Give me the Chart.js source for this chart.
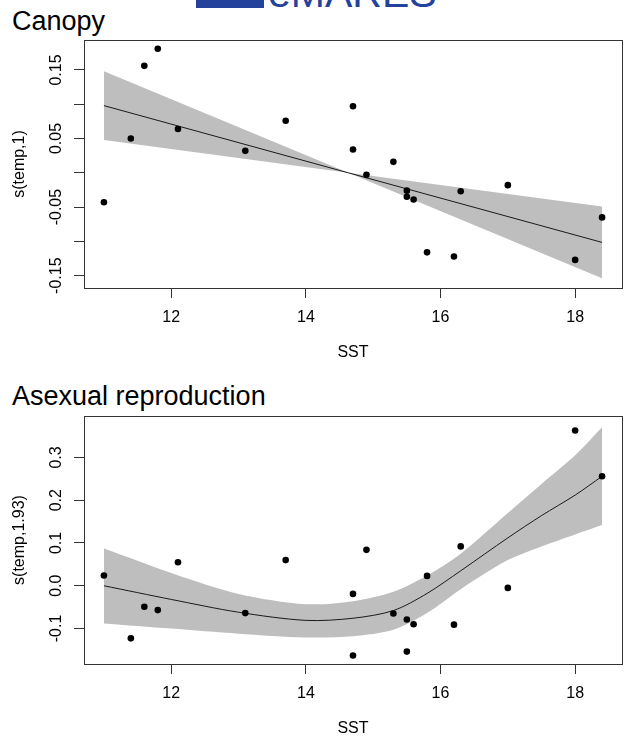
<!DOCTYPE html>
<html>
<head>
<meta charset="utf-8">
<script src="https://cdn.jsdelivr.net/npm/chart.js@4.4.1/dist/chart.umd.min.js"></script>
<style>
  body { margin: 0; background: #fff; width: 626px; height: 743px; position: relative; overflow: hidden;
         font-family: "Liberation Sans", Arial, sans-serif; }
  canvas { position: absolute; left: 0; }
  .title { position: absolute; left: 12px; font-size: 27px; line-height: 1; color: #000; white-space: nowrap; }
  #logo { position: absolute; left: 196px; top: 0; width: 250px; height: 8px; overflow: hidden; }
  #logo .mark { position: absolute; left: 0; top: 0; width: 68px; height: 8px; background: #24419b; }
  #logo .word { position: absolute; left: 72px; top: -27px; font-size: 41px; line-height: 1; color: #24419b; }
</style>
</head>
<body>
<div id="logo"><div class="mark"></div><div class="word">eMARES</div></div>
<div class="title" style="top:8px">Canopy</div>
<div class="title" style="top:383px">Asexual reproduction</div>
<canvas id="canopy" width="626" height="371" style="top:0"></canvas>
<canvas id="asexual" width="626" height="372" style="top:371px"></canvas>
<script>
// sea surface temperature of each site (shared by both panels)
const sst = [11.0, 11.4, 11.6, 11.8, 12.1, 13.1, 13.7, 14.7, 14.7, 14.9,
             15.3, 15.5, 15.5, 15.6, 15.8, 16.2, 16.3, 17.0, 18.0, 18.4];

// partial residuals
const canopyResid = [-0.043, 0.050, 0.156, 0.181, 0.064, 0.032, 0.076, 0.097, 0.034, -0.003,
                     0.016, -0.026, -0.035, -0.039, -0.116, -0.122, -0.027, -0.018, -0.127, -0.065];
const asexResid = [0.024, -0.123, -0.049, -0.057, 0.055, -0.064, 0.060, -0.019, -0.163, 0.084,
                   -0.065, -0.079, -0.154, -0.090, 0.023, -0.091, 0.092, -0.005, 0.363, 0.256];

// fitted smooths and confidence bands
const canopyFitX = [11.0, 14.63, 18.4];
const canopyFit = [0.098, 0.0, -0.1015];
const canopyUpper = [0.148, 0.0, -0.049];
const canopyLower = [0.048, 0.0, -0.154];

const asexFitX = [11.0, 12.0, 13.0, 14.0, 14.7, 15.3, 15.8, 16.3, 17.0, 17.5, 18.0, 18.4];
const asexFit = [0.000, -0.032, -0.062, -0.081, -0.076, -0.058, -0.018, 0.035, 0.112, 0.164, 0.212, 0.256];
const asexUpper = [0.087, 0.030, -0.019, -0.043, -0.036, -0.014, 0.024, 0.075, 0.170, 0.238, 0.305, 0.371];
const asexLower = [-0.088, -0.100, -0.112, -0.121, -0.118, -0.103, -0.064, -0.008, 0.060, 0.092, 0.120, 0.142];

// axes
const xTicks = [12, 14, 16, 18];
const canopyYTicks = [-0.15, -0.10, -0.05, 0, 0.05, 0.10, 0.15];
const canopyYLabelAt = [-0.15, -0.05, 0.05, 0.15];
const canopyYLabels = ['-0.15', '-0.05', '0.05', '0.15'];
const asexYTicks = [-0.1, 0, 0.1, 0.2, 0.3];
const asexYLabels = ['-0.1', '0.0', '0.1', '0.2', '0.3'];

const FONT = '"Liberation Sans", Arial, Helvetica, sans-serif';
Chart.defaults.font.family = FONT;
Chart.defaults.color = '#000';

const pts = (xs, ys) => xs.map((x, i) => ({x: x, y: ys[i]}));

// box around the plot and R-style rotated y labels
const rBox = {
  id: 'rbox',
  afterDraw(chart, args, opts) {
    const {ctx, chartArea: a} = chart;
    const y = chart.scales.y;
    ctx.save();
    ctx.strokeStyle = '#333';
    ctx.lineWidth = 1;
    ctx.strokeRect(Math.round(a.left) + 0.5, Math.round(a.top) + 0.5,
                   Math.round(a.right - a.left), Math.round(a.bottom - a.top));
    ctx.fillStyle = '#000';
    ctx.font = '16px ' + FONT;
    ctx.textAlign = 'center';
    ctx.textBaseline = 'middle';
    opts.at.forEach((v, i) => {
      ctx.save();
      ctx.translate(57, y.getPixelForValue(v));
      ctx.rotate(-Math.PI / 2);
      ctx.fillText(opts.labels[i], 0, 0);
      ctx.restore();
    });
    ctx.restore();
  }
};

function panel(id, p) {
  new Chart(document.getElementById(id), {
    type: 'scatter',
    data: {
      datasets: [
        {data: pts(sst, p.resid), pointRadius: 3.3, pointBackgroundColor: '#000', pointBorderWidth: 0, order: 0},
        {data: pts(p.fitX, p.fit), showLine: true, borderColor: '#1a1a1a', borderWidth: 1, pointRadius: 0,
         tension: p.tension, order: 1},
        {data: pts(p.fitX, p.upper), showLine: true, borderWidth: 0, pointRadius: 0, fill: '+1',
         backgroundColor: '#bebebe', tension: p.tension, order: 2},
        {data: pts(p.fitX, p.lower), showLine: true, borderWidth: 0, pointRadius: 0,
         tension: p.tension, order: 3}
      ]
    },
    options: {
      responsive: false,
      animation: false,
      events: [],
      layout: {padding: {top: p.top, right: 4, left: 0, bottom: 0}},
      plugins: {
        legend: {display: false},
        tooltip: {enabled: false},
        filler: {drawTime: 'beforeDatasetsDraw'},
        rbox: {at: p.yLabelAt, labels: p.yLabels}
      },
      scales: {
        x: {
          type: 'linear', min: 10.704, max: 18.696,
          afterBuildTicks: s => { s.ticks = xTicks.map(v => ({value: v})); },
          afterFit: s => { s.height = p.xh; },
          grid: {drawOnChartArea: false, tickLength: 10, tickColor: '#333', lineWidth: 1},
          border: {display: false},
          ticks: {font: {size: 16}, padding: 10, maxRotation: 0, callback: v => String(v)},
          title: {display: true, text: 'SST', font: {size: 16}, padding: {top: 0, bottom: p.titlePad}}
        },
        y: {
          min: p.ymin, max: p.ymax,
          afterBuildTicks: s => { s.ticks = p.yTicks.map(v => ({value: v})); },
          afterFit: s => { s.width = 84; },
          grid: {drawOnChartArea: false, tickLength: 10, tickColor: '#333', lineWidth: 1},
          border: {display: false},
          ticks: {display: false},
          title: {display: true, text: p.ylab, font: {size: 16}, padding: {top: 10, bottom: 0}}
        }
      }
    },
    plugins: [rBox]
  });
}

panel('canopy', {
  resid: canopyResid, fitX: canopyFitX, fit: canopyFit, upper: canopyUpper, lower: canopyLower,
  ymin: -0.168, ymax: 0.1937, yTicks: canopyYTicks, yLabelAt: canopyYLabelAt, yLabels: canopyYLabels,
  ylab: 's(temp,1)', top: 40, xh: 83, titlePad: 9, tension: 0
});
panel('asexual', {
  resid: asexResid, fitX: asexFitX, fit: asexFit, upper: asexUpper, lower: asexLower,
  ymin: -0.183, ymax: 0.397, yTicks: asexYTicks, yLabelAt: asexYTicks, yLabels: asexYLabels,
  ylab: 's(temp,1.93)', top: 45, xh: 79, titlePad: 5, tension: 0.3
});
</script>
</body>
</html>
